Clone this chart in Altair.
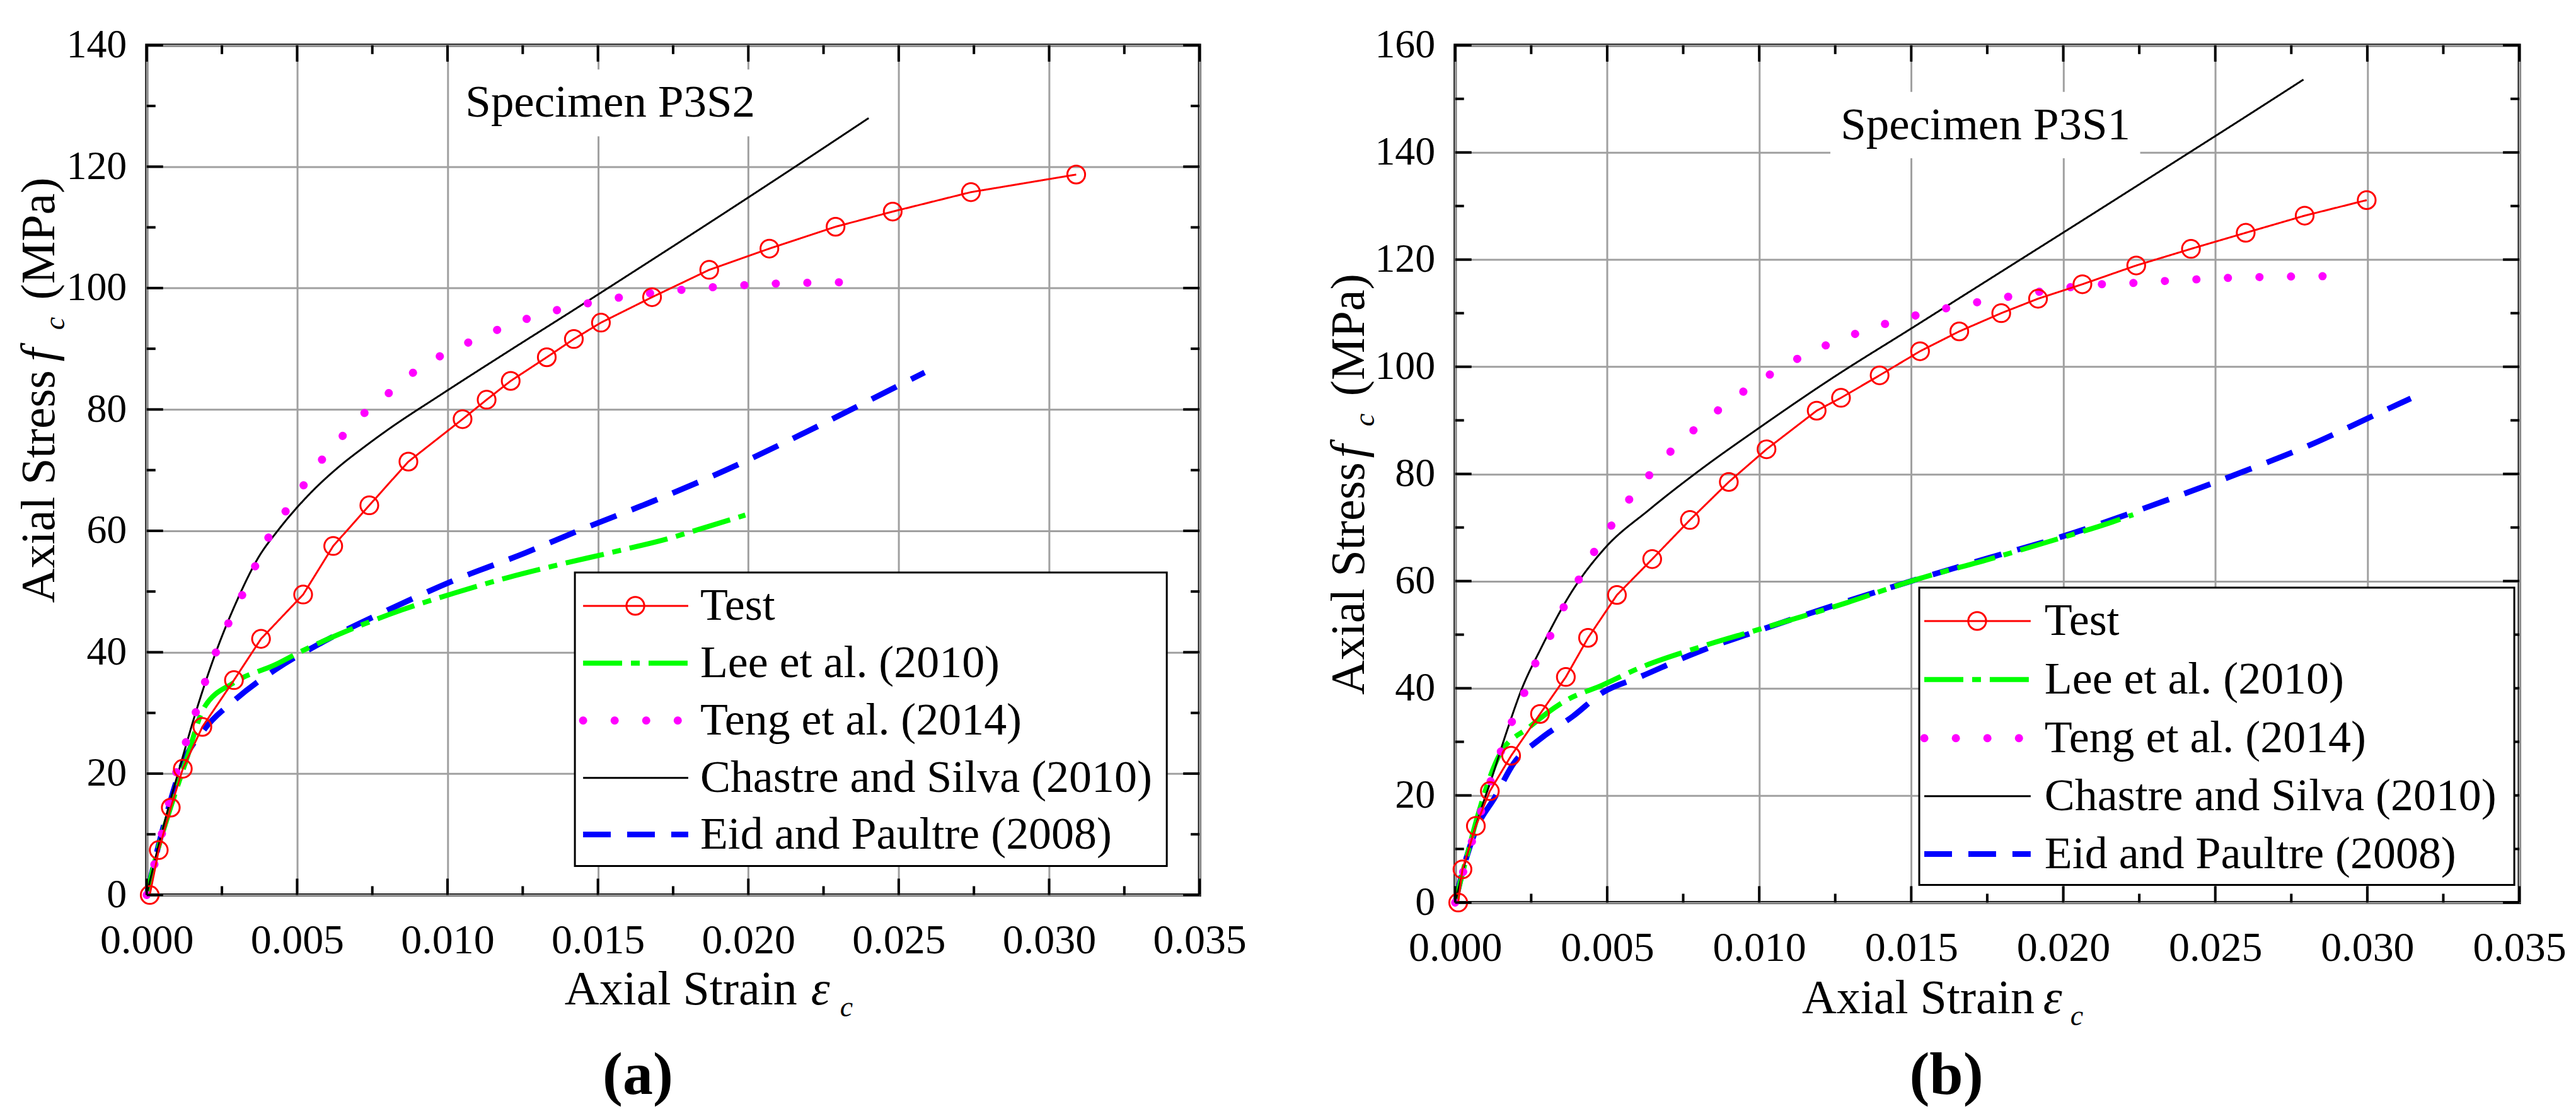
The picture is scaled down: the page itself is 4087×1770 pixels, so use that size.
import altair as alt
import pandas as pd

FONT = "Liberation Serif"
SERIES = ["Test", "Lee et al. (2010)", "Teng et al. (2014)",
          "Chastre and Silva (2010)", "Eid and Paultre (2008)"]
COLORS = ["#ff0000", "#00ff00", "#ff00ff", "#000000", "#0000ff"]

# tick values
X_MAJOR = [0.0, 0.005, 0.010, 0.015, 0.020, 0.025, 0.030, 0.035]
X_MINOR = [0.0025, 0.0075, 0.0125, 0.0175, 0.0225, 0.0275, 0.0325]
YA_MAJOR = [0, 20, 40, 60, 80, 100, 120, 140]
YA_MINOR = [10, 30, 50, 70, 90, 110, 130]
YB_MAJOR = [0, 20, 40, 60, 80, 100, 120, 140, 160]
YB_MINOR = [10, 30, 50, 70, 90, 110, 130, 150]

# ---------------- Panel (a): Specimen P3S2 ----------------
A_TEST_X = [0.0001, 0.0004, 0.0008, 0.0012, 0.00185, 0.0029, 0.0038, 0.0052, 0.0062,
            0.0074, 0.0087, 0.0105, 0.0113, 0.0121, 0.0133, 0.0142, 0.0151, 0.0168,
            0.0187, 0.0207, 0.0229, 0.0248, 0.0274, 0.0309]
A_TEST_Y = [0, 7.4, 14.4, 20.8, 27.7, 35.4, 42.2, 49.5, 57.5, 64.2, 71.4, 78.4, 81.6,
            84.7, 88.6, 91.6, 94.3, 98.5, 103.0, 106.5, 110.1, 112.6, 115.8, 118.7]
A_LEE_X = [0, 0.0004, 0.0008, 0.0013, 0.0019, 0.0029, 0.0043, 0.0050, 0.0070, 0.0085,
           0.0102, 0.0120, 0.0136, 0.0155, 0.0174, 0.0182, 0.0199]
A_LEE_Y = [0, 8, 14.5, 22, 30.8, 35.0, 38.0, 39.8, 44.2, 47.0, 49.7, 52.3, 54.3, 56.5,
           58.8, 60.0, 62.6]
A_TENG_X = [0, 0.0005, 0.0010, 0.0015, 0.0020, 0.0026, 0.0032, 0.0037, 0.0041, 0.0047,
            0.0053, 0.0059, 0.0066, 0.0073, 0.0082, 0.0090, 0.0100, 0.0110, 0.0120,
            0.0130, 0.0141, 0.0151, 0.0162, 0.0172, 0.0182, 0.0193, 0.0203, 0.0214,
            0.0224, 0.0235]
A_TENG_Y = [0, 10, 20.5, 28, 36, 43.5, 49.7, 55.2, 59.4, 63.8, 68.1, 72.2, 76.1, 79.7,
            83.3, 86.6, 89.4, 91.7, 93.8, 95.5, 96.9, 97.9, 98.8, 99.4, 99.9, 100.3,
            100.6, 100.8, 100.9, 101.0]
A_CHAS_X = [0, 0.0003, 0.0007, 0.0012, 0.0016, 0.0023, 0.0030, 0.0037, 0.0044, 0.0054,
            0.0064, 0.0072, 0.0080, 0.0098, 0.0120, 0.0142, 0.0165, 0.0190, 0.0215,
            0.0240]
A_CHAS_Y = [0, 6.3, 14.0, 22.8, 29.6, 40.0, 48.5, 55.5, 60.3, 66.0, 70.6, 73.7, 76.6,
            82.5, 89.5, 96.4, 103.7, 111.7, 119.8, 128.0]
A_EID_X = [0, 0.00053, 0.0012, 0.0019, 0.0029, 0.0043, 0.0059, 0.0080, 0.0102, 0.0126,
           0.01444, 0.01684, 0.01925, 0.02193, 0.02406, 0.02586]
A_EID_Y = [0, 10.8, 21.7, 27.2, 32.0, 37.2, 41.8, 46.9, 51.8, 56.4, 60.2, 64.9, 70.0,
           76.3, 81.6, 86.1]

# ---------------- Panel (b): Specimen P3S1 ----------------
B_TEST_X = [0.0001, 0.00024, 0.00068, 0.00114, 0.00184, 0.00279, 0.00364, 0.00437,
            0.00532, 0.00648, 0.00772, 0.0090, 0.01024, 0.01189, 0.01269, 0.01396,
            0.01529, 0.01658, 0.01796, 0.01917, 0.02063, 0.0224, 0.0242, 0.0260,
            0.02794, 0.02998]
B_TEST_Y = [0, 6.2, 14.3, 20.8, 27.4, 35.2, 42.1, 49.4, 57.4, 64.1, 71.4, 78.5, 84.6,
            91.8, 94.2, 98.4, 102.9, 106.6, 110.0, 112.7, 115.4, 118.9, 122.0, 125.0,
            128.2, 131.1]
B_LEE_X = [0, 0.0004, 0.00073, 0.00146, 0.00243, 0.00364, 0.00485, 0.00607, 0.0080,
           0.0100, 0.0129, 0.0150, 0.0177, 0.0199, 0.0216, 0.0223]
B_LEE_Y = [0, 9, 16, 27.6, 32.7, 37.7, 40.6, 43.8, 47.6, 51.0, 56.0, 60.0, 64.3, 68.0,
           71.0, 72.4]
B_TENG_X = [0, 0.0003, 0.00068, 0.0012, 0.00158, 0.00194, 0.00238, 0.00274, 0.00323,
            0.00369, 0.00417, 0.00471, 0.00529, 0.0059, 0.00655, 0.00726, 0.00806,
            0.00893, 0.0098, 0.01073, 0.01167, 0.01264, 0.01364, 0.01464, 0.01566,
            0.01667, 0.01772, 0.01876, 0.01983, 0.02087, 0.02192, 0.02299, 0.02403,
            0.02507, 0.02614, 0.02718, 0.02823, 0.02929]
B_TENG_Y = [0, 6.5, 13.8, 23.2, 29.4, 34.8, 40.6, 46.1, 50.8, 56.6, 61.3, 66.8, 71.6,
            76.6, 80.8, 85.2, 89.2, 93.1, 96.6, 99.8, 102.7, 105.0, 107.1, 108.8, 110.3,
            111.5, 112.6, 113.6, 114.5, 115.3, 115.5, 115.9, 116.2, 116.5, 116.7, 116.8,
            116.9, 116.9]
B_CHAS_X = [0, 0.0004, 0.0008, 0.0012, 0.0017, 0.0022, 0.0028, 0.0038, 0.0049, 0.0064,
            0.0080, 0.0100, 0.0123, 0.0151, 0.0182, 0.0206, 0.0231, 0.0262, 0.0279]
B_CHAS_Y = [0, 9, 16.5, 23.2, 32, 40, 47.2, 57.7, 66.0, 73.4, 80.5, 88.6, 97.5, 107.5,
            118.6, 127.2, 136.2, 147.4, 153.6]
B_EID_X = [0, 0.0003, 0.0007, 0.0013, 0.00194, 0.00279, 0.00388, 0.00485, 0.00607,
           0.0080, 0.0100, 0.01286, 0.0150, 0.01772, 0.0199, 0.0233, 0.0260, 0.02816,
           0.0301, 0.03143]
B_EID_Y = [0, 7, 13.8, 19.6, 26.1, 30.5, 34.8, 39.2, 42.1, 46.8, 50.8, 56.2, 60.0, 64.6,
           68.2, 74.9, 80.6, 85.5, 90.6, 94.1]

# ---------------- styling ----------------
LEE_DASH = [62, 14, 14, 14]
TENG_DASH = [0.1, 50]
EID_DASH = [44, 26]
W_TEST, W_LEE, W_TENG, W_CHAS, W_EID = 3, 8, 13, 3, 9
GRID = "#a0a0a0"
STYLES = {  # stroke width, dash, cap
    SERIES[0]: (W_TEST, [1, 0], "butt"),
    SERIES[1]: (W_LEE, LEE_DASH, "butt"),
    SERIES[2]: (W_TENG, TENG_DASH, "round"),
    SERIES[3]: (W_CHAS, [1, 0], "butt"),
    SERIES[4]: (W_EID, EID_DASH, "butt"),
}


def one_row():
    return pd.DataFrame({"k": [0]})


def text_layer(txt, x, y, size, align="left", angle=0, style="normal", weight="normal",
               baseline="alphabetic"):
    kw = dict(text=txt, font=FONT, fontSize=size, align=align, baseline=baseline,
              fontStyle=style, fontWeight=weight, color="black")
    if angle:
        kw["angle"] = angle
    return alt.Chart(one_row()).mark_text(**kw).encode(x=alt.value(x), y=alt.value(y))


def legend_layers(box, rows_y, sym_x0, sym_x1, circ_x, lab_x):
    out = [alt.Chart(one_row()).mark_rect(fill="white", stroke="black", strokeWidth=3)
           .encode(x=alt.value(box[0]), x2=alt.value(box[1]),
                   y=alt.value(box[2]), y2=alt.value(box[3]))]
    for name, col, ry in zip(SERIES, COLORS, rows_y):
        w, dash, cap = STYLES[name]
        out.append(alt.Chart(one_row()).mark_rule(
            color=col, strokeWidth=w, strokeDash=dash, strokeCap=cap).encode(
            x=alt.value(sym_x0), x2=alt.value(sym_x1), y=alt.value(ry)))
        if name == "Test":
            out.append(alt.Chart(one_row()).mark_point(
                shape="circle", filled=False, size=800, strokeWidth=3, color=col,
                opacity=1).encode(x=alt.value(circ_x), y=alt.value(ry)))
        out.append(text_layer(name, lab_x, ry, 72, baseline="middle"))
    return out


def panel(W, H, ymax, ymaj, ymin, data, box, spec_txt, spec_pos, leg, xt, yt, plabel,
          plabel_dy):
    xs = alt.Scale(domain=[0, 0.035], nice=False, zero=False)
    ys = alt.Scale(domain=[0, ymax], nice=False, zero=False)
    xaxis = alt.Axis(values=X_MAJOR, format=".3f", grid=True, gridColor=GRID, gridWidth=3,
                     ticks=False, domain=False, labelFont=FONT,
                     labelFontSize=66, labelColor="black", labelPadding=40,
                     labelFlush=False, labelOverlap=False, title=None)
    yaxis = alt.Axis(values=ymaj, format="d", grid=True, gridColor=GRID, gridWidth=3,
                     ticks=False, domain=False, labelFont=FONT,
                     labelFontSize=64, labelColor="black", labelPadding=32,
                     labelFlush=False, labelOverlap=False, title=None)

    test_x, test_y, lee_x, lee_y, teng_x, teng_y, chas_x, chas_y, eid_x, eid_y = data

    def X(f):
        return alt.X(f, scale=xs, axis=xaxis)

    def Y(f):
        return alt.Y(f, scale=ys, axis=yaxis)

    # white box behind the specimen label
    boxdf = pd.DataFrame({"x0": [box[0]], "x1": [box[1]], "y0": [box[2]], "y1": [box[3]]})
    boxl = alt.Chart(boxdf).mark_rect(color="white").encode(
        x=X("x0:Q"), x2="x1:Q", y=Y("y0:Q"), y2="y1:Q")

    def ser(xv, yv, idx, interp="monotone"):
        name = SERIES[idx]
        w, dash, cap = STYLES[name]
        df = pd.DataFrame({"strain": xv, "stress": yv})
        return alt.Chart(df).mark_line(
            color=COLORS[idx], strokeWidth=w, strokeDash=dash, strokeCap=cap,
            interpolate=interp).encode(x=X("strain:Q"), y=Y("stress:Q"))

    eid = ser(eid_x, eid_y, 4)
    lee = ser(lee_x, lee_y, 1)
    chas = ser(chas_x, chas_y, 3)
    teng = ser(teng_x, teng_y, 2)
    tline = ser(test_x, test_y, 0, "linear")
    tpts = alt.Chart(pd.DataFrame({"strain": test_x, "stress": test_y})).mark_point(
        shape="circle", filled=False, size=800, strokeWidth=3, color=COLORS[0],
        opacity=1).encode(x=X("strain:Q"), y=Y("stress:Q"))

    spec = alt.Chart(pd.DataFrame({"x": [spec_pos[0]], "y": [spec_pos[1]], "t": [spec_txt]})
                     ).mark_text(font=FONT, fontSize=73, align="center",
                                 baseline="alphabetic", color="black").encode(
        x=X("x:Q"), y=Y("y:Q"), text="t:N")

    # inward ticks on all four sides
    def xt_rule(vals, top, ln):
        d = pd.DataFrame({"v": vals})
        y0, y1 = (0, ln) if top else (H, H - ln)
        return alt.Chart(d).mark_rule(color="black", strokeWidth=4).encode(
            x=X("v:Q"), y=alt.value(y0), y2=alt.value(y1))

    def yt_rule(vals, right, ln):
        d = pd.DataFrame({"v": vals})
        x0, x1 = (W, W - ln) if right else (0, ln)
        return alt.Chart(d).mark_rule(color="black", strokeWidth=4).encode(
            y=Y("v:Q"), x=alt.value(x0), x2=alt.value(x1))

    ticks = [xt_rule(X_MAJOR, False, 26), xt_rule(X_MINOR, False, 14),
             xt_rule(X_MAJOR, True, 26), xt_rule(X_MINOR, True, 14),
             yt_rule(ymaj, False, 26), yt_rule(ymin, False, 14),
             yt_rule(ymaj, True, 26), yt_rule(ymin, True, 14)]

    # axis titles built from pieces (italic symbol + subscript)
    tb = H + xt[3]
    titles = [
        text_layer("Axial Strain", xt[0], tb, 76, align="right"),
        text_layer("\u03b5", xt[1] + 3, tb, 76, style="italic"),
        text_layer("c", xt[2] + 4, tb + 19, 46, style="italic"),
        text_layer("Axial Stress", yt[0], yt[1], 76, align="right", angle=270),
        text_layer("f", yt[0], yt[2], 76, style="italic", angle=270),
        text_layer("c", yt[0] + 16, yt[3], 46, style="italic", angle=270),
        text_layer("(MPa)", yt[0], yt[4], 76, angle=270),
        text_layer(plabel, 780, H + plabel_dy, 96, align="center", weight="bold"),
    ]

    layers = ([boxl, eid, lee, chas, teng, tline, tpts, spec] + ticks
              + legend_layers(*leg) + titles)
    return alt.layer(*layers).properties(width=W, height=H)


pa = panel(1672, 1349, 140, YA_MAJOR, YA_MINOR,
           (A_TEST_X, A_TEST_Y, A_LEE_X, A_LEE_Y, A_TENG_X, A_TENG_Y,
            A_CHAS_X, A_CHAS_Y, A_EID_X, A_EID_Y),
           (0.01036, 0.02051, 125.0, 136.0), "Specimen P3S2", (0.01541, 128.2),
           ((680, 1620, 837, 1303), [890, 981, 1072, 1163, 1253], 693, 860, 776, 879),
           (1033, 1052, 1097, 174), (-147, 516, 502, 452, 404), "(a)", 316)
pb = panel(1690, 1361, 160, YB_MAJOR, YB_MINOR,
           (B_TEST_X, B_TEST_Y, B_LEE_X, B_LEE_Y, B_TENG_X, B_TENG_Y,
            B_CHAS_X, B_CHAS_Y, B_EID_X, B_EID_Y),
           (0.01234, 0.02253, 138.9, 151.3), "Specimen P3S1", (0.01744, 142.5),
           ((737, 1682, 861, 1333), [914, 1007, 1100, 1192, 1284], 745, 914, 829, 936),
           (920, 931, 973, 176), (-145, 662, 655, 605, 557), "(b)", 304)

chart = alt.hconcat(pa, pb, spacing=406, bounds="flush").properties(
    padding={"left": 14, "top": 28, "right": 5, "bottom": 5},
    background="white",
).configure_view(stroke="black", strokeWidth=5)

chart.save("out.html", embed_options={"renderer": "svg", "actions": False})
